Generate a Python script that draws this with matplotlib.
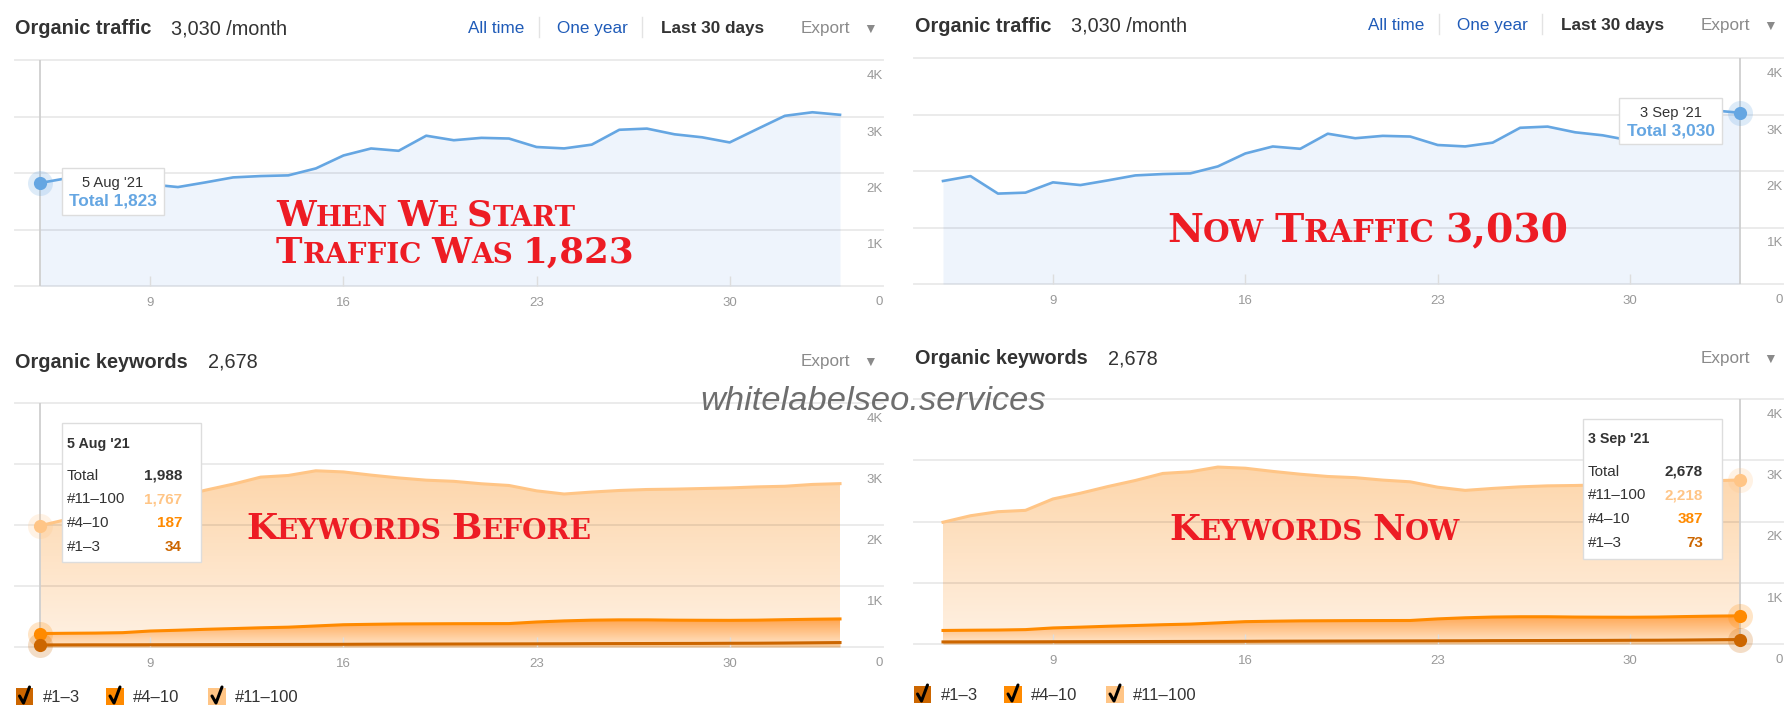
import numpy as np
import matplotlib
matplotlib.use("Agg")
import matplotlib.pyplot as plt
from matplotlib.colors import LinearSegmentedColormap
from matplotlib.patches import Rectangle
from matplotlib.lines import Line2D

plt.rcParams["font.family"] = ["Liberation Sans", "DejaVu Sans"]

# --- Daten (5 Aug '21 .. 3 Sep '21) ---
days = list(range(5, 35))          # 32 = 1 Sep, 33 = 2 Sep, 34 = 3 Sep
tick_days = [9, 16, 23, 30]
tick_labels = ["9", "16", "23", "30"]
y_ticks = [0, 1000, 2000, 3000, 4000]
y_tick_labels = ["0", "1K", "2K", "3K", "4K"]

traffic = [1823, 1910, 1600, 1617, 1799, 1751, 1834, 1922, 1946, 1958,
           2081, 2310, 2434, 2393, 2660, 2580, 2622, 2610, 2460, 2435,
           2502, 2765, 2786, 2685, 2632, 2541, 2778, 3012, 3075, 3030]

kw_1_3 = [34, 35, 36, 36, 37, 38, 39, 40, 41, 42,
          43, 44, 46, 47, 48, 49, 50, 51, 52, 53,
          55, 56, 57, 58, 59, 61, 62, 65, 69, 73]
kw_4_10 = [187, 190, 192, 199, 225, 237, 251, 262, 274, 283,
           302, 321, 326, 331, 332, 333, 333, 333, 358, 375,
           385, 389, 388, 382, 379, 376, 378, 383, 386, 387]
kw_11_100 = [1767, 1869, 1932, 1947, 2106, 2187, 2281, 2368, 2470, 2487,
             2544, 2505, 2446, 2394, 2355, 2334, 2293, 2264, 2150, 2080,
             2100, 2121, 2137, 2148, 2160, 2171, 2185, 2187, 2210, 2218]

legend_labels = ["#1–3", "#4–10", "#11–100"]
kw_colors = ["#cc6600", "#ff8a00", "#ffc586"]
blue = "#65a6e2"
red = "#ed1c24"

W, H = 1792, 716
fig = plt.figure(figsize=(W / 100, H / 100), dpi=100)
renderer = fig.canvas.get_renderer()


def fx(x):
    return x / W


def fy(y):
    return 1 - y / H


def txt(x, y, s, **kw):
    kw.setdefault("va", "center_baseline")
    kw.setdefault("zorder", 11)
    return fig.text(fx(x), fy(y), s, **kw)


def box(x0, y0, x1, y1):
    fig.add_artist(Rectangle((fx(x0), fy(y1)), (x1 - x0) / W, (y1 - y0) / H,
                             transform=fig.transFigure, facecolor="white",
                             edgecolor="#dddddd", lw=1, zorder=10))


# Achse mit Gitter, Y-Beschriftung rechts innen
def panel(x0, y0, x1, y1, d0, d1):
    ax = fig.add_axes([fx(x0), fy(y1), (x1 - x0) / W, (y1 - y0) / H])
    step = (d1 - d0) / (days[-1] - days[0])
    ax.set_xlim(days[0] - (d0 - x0) / step, days[-1] + (x1 - d1) / step)
    ax.set_ylim(0, 4000)
    for s in ax.spines.values():
        s.set_visible(False)
    ax.set_facecolor("none")
    ax.set_yticks([])
    ax.set_xticks(tick_days, tick_labels)
    ax.tick_params(axis="x", direction="in", length=7, width=1, color="#dddddd",
                   labelcolor="#999999", labelsize=9.5, pad=8)
    for v, lab in zip(y_ticks, y_tick_labels):
        ax.axhline(v, color="#000000", alpha=0.08, lw=1.4, zorder=1.5, clip_on=False)
        ax.annotate(lab, xy=(1, v), xycoords=("axes fraction", "data"),
                    xytext=(0, -16), textcoords="offset pixels", ha="right",
                    va="center", fontsize=9.5, color="#999999")
    return ax


def dot(ax, x, y, color):
    ax.plot(x, y, "o", ms=18, color=color, alpha=0.22, mew=0, zorder=6, clip_on=False)
    ax.plot(x, y, "o", ms=9.5, color=color, mew=0, zorder=7, clip_on=False)


def traffic_panel(ax, hi):
    ax.fill_between(days, traffic, color="#eef4fc", lw=0, zorder=1)
    ax.axvline(days[hi], color="#cfcfcf", lw=1.3, zorder=1.6)
    ax.plot(days, traffic, color=blue, lw=1.9, zorder=3)
    dot(ax, days[hi], traffic[hi], blue)


def grad_fill(ax, lo, hi, c_top, c_bot, z):
    poly = ax.fill_between(days, lo, hi, facecolor="none", lw=0)
    cmap = LinearSegmentedColormap.from_list("g", [c_bot, c_top])
    im = ax.imshow(np.linspace(0, 1, 256).reshape(-1, 1), cmap=cmap, aspect="auto",
                   origin="lower", extent=[days[0], days[-1], 0, max(hi) * 1.03],
                   zorder=z, interpolation="bilinear")
    im.set_clip_path(poly.get_paths()[0], ax.transData)


def kw_panel(ax, hi):
    s1 = np.array(kw_1_3)
    s2 = s1 + np.array(kw_4_10)
    s3 = s2 + np.array(kw_11_100)
    grad_fill(ax, 0, s3, "#fdd5a9", "#fff1e3", 1)
    grad_fill(ax, 0, s2, "#ffa24a", "#ffe8cf", 1.1)
    ax.fill_between(days, 0, s1, color="#f9c995", lw=0, zorder=1.2)
    ax.axvline(days[hi], color="#cfcfcf", lw=1.3, zorder=1.6)
    for s, c in zip([s3, s2, s1], kw_colors[::-1]):
        ax.plot(days, s, color=c, lw=2.2, zorder=3)
    for s, c in zip([s3, s2, s1], kw_colors[::-1]):
        dot(ax, days[hi], s[hi], c)


def header(x_off, y, items):
    for x, s, kw in items:
        txt(x + x_off, y, s, **kw)


def traffic_header(x_off, y):
    header(x_off, y, [
        (15, "Organic traffic", dict(fontsize=14.3, fontweight="bold", color="#333333")),
        (171, f"{traffic[-1]:,} /month", dict(fontsize=14.3, color="#333333")),
        (468, "All time", dict(fontsize=12.3, color="#1f5bb8")),
        (557, "One year", dict(fontsize=12.3, color="#1f5bb8")),
        (661, "Last 30 days", dict(fontsize=12.3, fontweight="bold", color="#333333")),
        (801, "Export", dict(fontsize=12.3, color="#8a8a8a")),
        (863, "▼", dict(fontsize=10, color="#8a8a8a")),
    ])
    for sx in (539, 642):
        fig.add_artist(Line2D([fx(sx + x_off)] * 2, [fy(y - 10), fy(y + 10)],
                              color="#e3e3e3", lw=1, transform=fig.transFigure))


def kw_header(x_off, y):
    total = kw_1_3[-1] + kw_4_10[-1] + kw_11_100[-1]
    header(x_off, y, [
        (15, "Organic keywords", dict(fontsize=14.3, fontweight="bold", color="#333333")),
        (208, f"{total:,}", dict(fontsize=14.3, color="#333333")),
        (801, "Export", dict(fontsize=12.3, color="#8a8a8a")),
        (863, "▼", dict(fontsize=10, color="#8a8a8a")),
    ])


def traffic_tip(x0, y0, x1, y1, date, i):
    box(x0, y0, x1, y1)
    xc = (x0 + x1) / 2
    txt(xc, y0 + 14, date, ha="center", fontsize=10.6, color="#333333")
    txt(xc, y0 + 32, f"Total {traffic[i]:,}", ha="center", fontsize=12.4,
        fontweight="bold", color=blue)


def kw_tip(x0, y0, x1, y1, date, i):
    box(x0, y0, x1, y1)
    txt(x0 + 5, y0 + 19, date, fontsize=10.3, fontweight="bold", color="#333333")
    total = kw_1_3[i] + kw_4_10[i] + kw_11_100[i]
    rows = [("Total", total, "#333333"), ("#11–100", kw_11_100[i], kw_colors[2]),
            ("#4–10", kw_4_10[i], kw_colors[1]), ("#1–3", kw_1_3[i], kw_colors[0])]
    for k, (lab, val, col) in enumerate(rows):
        yy = y0 + 51 + k * 23.7
        txt(x0 + 5, yy, lab, fontsize=11, color="#333333")
        txt(x1 - 19, yy, f"{val:,}", ha="right", fontsize=11, fontweight="bold", color=col)


def legend(x_off, yc):
    for bx, tx, lab, col in zip([15.5, 106, 208], [43, 133, 235], legend_labels, kw_colors):
        x0 = bx + x_off
        fig.add_artist(Rectangle((fx(x0), fy(yc + 8.5)), 17.5 / W, 17 / H,
                                 transform=fig.transFigure, facecolor=col, edgecolor="none"))
        fig.add_artist(Line2D([fx(x0 + 4), fx(x0 + 8), fx(x0 + 14)],
                              [fy(yc), fy(yc + 7), fy(yc - 9)], color="black",
                              lw=2.2, transform=fig.transFigure, zorder=3,
                              solid_capstyle="round"))
        txt(tx + x_off, yc, lab, fontsize=12, color="#333333")


# Kapitälchen-Beschriftung, auf Zielbreite skaliert
def smallcaps(x, y_mid, text, width, ratio=0.78):
    runs = []
    for ch in text:
        small = ch.islower()
        if ch == " ":
            runs.append((" ", None))
        elif runs and runs[-1][1] == small:
            runs[-1] = (runs[-1][0] + ch, small)
        else:
            runs.append((ch, small))

    def draw(size):
        px = size * 100 / 72
        y_base = y_mid + 0.365 * px
        cur = x
        arts = []
        for run, small in runs:
            if small is None:
                cur += 0.26 * px
                continue
            t = fig.text(fx(cur), fy(y_base), run.upper(), fontsize=size * ratio if small else size,
                         fontweight="bold", family="DejaVu Serif", color=red,
                         va="baseline", ha="left", zorder=12)
            cur += t.get_window_extent(renderer).width
            arts.append(t)
        return arts, cur - x

    arts, w = draw(20)
    for a in arts:
        a.remove()
    draw(20 * width / w)


def fitted(x, y, s, width, **kw):
    t = txt(x, y, s, fontsize=20, **kw)
    w = t.get_window_extent(renderer).width
    t.set_fontsize(20 * width / w)


# --- Panels ---
ax_tl = panel(15, 60, 883, 286, 40, 840)
traffic_panel(ax_tl, 0)
ax_tr = panel(914, 58, 1783, 284, 943, 1740)
traffic_panel(ax_tr, len(days) - 1)
ax_bl = panel(15, 403, 883, 647, 40, 840)
kw_panel(ax_bl, 0)
ax_br = panel(914, 399, 1783, 644, 943, 1740)
kw_panel(ax_br, len(days) - 1)

traffic_header(0, 27)
traffic_header(900, 24)
kw_header(0, 360)
kw_header(900, 357)

traffic_tip(62, 168, 164, 215, "5 Aug '21", 0)
traffic_tip(1619, 98, 1722, 144, "3 Sep '21", len(days) - 1)
kw_tip(62, 423, 201, 562, "5 Aug '21", 0)
kw_tip(1583, 419, 1722, 559, "3 Sep '21", len(days) - 1)

legend(0, 696)
legend(898, 694)

smallcaps(276, 213, "When We Start", 300)
smallcaps(276, 250, "Traffic Was 1,823", 358)
smallcaps(1167, 228, "Now Traffic 3,030", 400)
smallcaps(246, 526, "Keywords Before", 346)
smallcaps(1169, 527, "Keywords Now", 291)

fitted(700, 398, "whitelabelseo.services", 344, style="italic", color="#6e6e6e",
       zorder=13)

fig.savefig("out.png", dpi=100, facecolor="white")
